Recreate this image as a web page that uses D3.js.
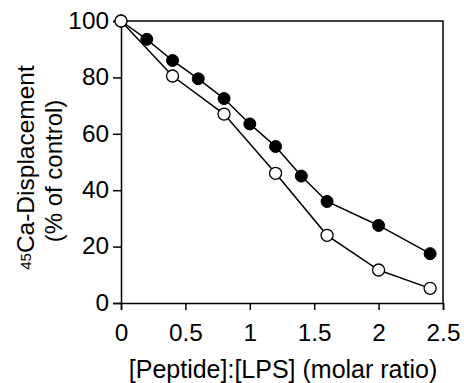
<!DOCTYPE html>
<html>
<head>
<meta charset="utf-8">
<script src="https://cdn.jsdelivr.net/npm/d3@7"></script>
<style>
  body { margin: 0; background: #fff; }
  text { font-family: "Liberation Sans", Arial, sans-serif; fill: #000; }
</style>
</head>
<body>
<div id="chart"></div>
<script>
// data
var xFilled = [0, 0.2, 0.4, 0.6, 0.8, 1.0, 1.2, 1.4, 1.6, 2.0, 2.4];
var yFilled = [100, 93.5, 86, 79.5, 72.5, 63.5, 55.5, 45, 36, 27.5, 17.5];
var xOpen = [0, 0.4, 0.8, 1.2, 1.6, 2.0, 2.4];
var yOpen = [100, 80.5, 67, 46, 24, 11.7, 5.2];
var xTicks = [0, 0.5, 1, 1.5, 2, 2.5];
var yTicks = [0, 20, 40, 60, 80, 100];

var w = 464, h = 383;
var padL = 121, padR = 443, padT = 21, padB = 303;

var svg = d3.select("#chart").append("svg").attr("width", w).attr("height", h);

var x = d3.scaleLinear().domain([0, 2.5]).range([padL, padR]);
var y = d3.scaleLinear().domain([0, 100]).range([padB, padT]);

// frame top + right
svg.append("path")
    .attr("d", "M" + padL + "," + padT + "H" + padR + "V" + padB)
    .attr("fill", "none").attr("stroke", "#000").attr("stroke-width", 1.5);

// axes
var xAxis = svg.append("g").attr("transform", "translate(0," + padB + ")")
    .call(d3.axisBottom(x).tickValues(xTicks).tickSize(7).tickPadding(15).tickFormat(function(d){ return d; }));
var yAxis = svg.append("g").attr("transform", "translate(" + padL + ",0)")
    .call(d3.axisLeft(y).tickValues(yTicks).tickSize(8).tickPadding(4));
[xAxis, yAxis].forEach(function(g) {
  g.select(".domain").attr("stroke-width", 1.5);
  g.selectAll(".tick line").attr("stroke-width", 1.5);
  g.selectAll(".tick text")
    .attr("font-size", 23).attr("font-family", "'Liberation Sans', Arial, sans-serif")
    .each(function() {
      // labels in the figure are a touch wide
      var t = d3.select(this);
      var tx = +t.attr("x") || 0, ty = +t.attr("y") || 0;
      t.attr("x", 0).attr("y", 0)
       .attr("transform", "translate(" + tx + "," + ty + ") scale(1.06,1)");
    });
});

// lines
var filled = xFilled.map(function(d, i){ return [d, yFilled[i]]; });
var open = xOpen.map(function(d, i){ return [d, yOpen[i]]; });
var line = d3.line().x(function(d){ return x(d[0]); }).y(function(d){ return y(d[1]); });

svg.append("path").datum(filled).attr("d", line).attr("fill", "none").attr("stroke", "#000").attr("stroke-width", 1.5);
svg.append("path").datum(open).attr("d", line).attr("fill", "none").attr("stroke", "#000").attr("stroke-width", 1.5);

svg.selectAll(".fdot").data(filled).enter().append("circle")
    .attr("cx", function(d){ return x(d[0]); }).attr("cy", function(d){ return y(d[1]); })
    .attr("r", 6).attr("fill", "#000").attr("stroke", "#000").attr("stroke-width", 1);
svg.selectAll(".odot").data(open).enter().append("circle")
    .attr("cx", function(d){ return x(d[0]); }).attr("cy", function(d){ return y(d[1]); })
    .attr("r", 6).attr("fill", "#fff").attr("stroke", "#000").attr("stroke-width", 1.3);

// x label
svg.append("text").attr("x", (padL + padR) / 2 + 1).attr("y", 378)
    .attr("text-anchor", "middle").attr("font-size", 25)
    .text("[Peptide]:[LPS] (molar ratio)");

// y label
var yl = svg.append("text").attr("transform", "translate(33.5,167.5) rotate(-90)")
    .attr("text-anchor", "middle").attr("font-size", 24.5);
yl.append("tspan").attr("font-size", 15).attr("dy", -3).text("45");
yl.append("tspan").attr("dy", 3).text("Ca-Displacement");
svg.append("text").attr("transform", "translate(61.5,171) rotate(-90)")
    .attr("text-anchor", "middle").attr("font-size", 24)
    .text("(% of control)");
</script>
</body>
</html>
